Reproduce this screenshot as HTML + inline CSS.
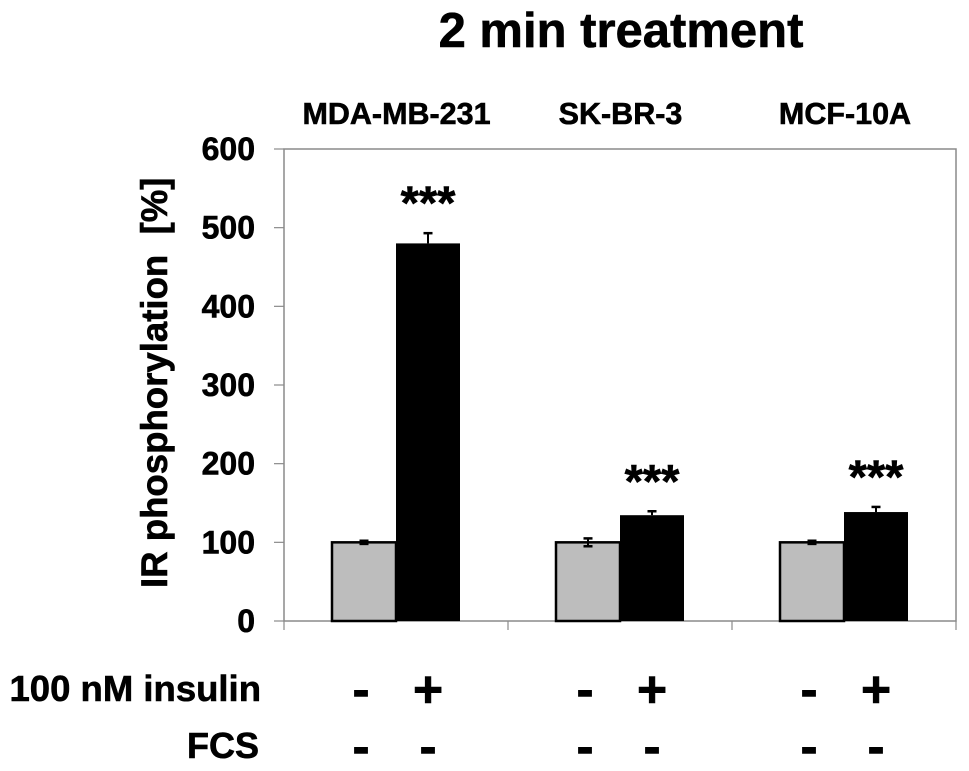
<!DOCTYPE html>
<html>
<head>
<meta charset="utf-8">
<title>2 min treatment</title>
<style>
html,body{margin:0;padding:0;background:#fff;}
svg{display:block;}
text{font-family:"Liberation Sans",sans-serif;font-weight:bold;fill:#000;stroke:#000;stroke-width:0.6px;}
</style>
</head>
<body>
<svg id="chart" width="969" height="771" viewBox="0 0 969 771" xmlns="http://www.w3.org/2000/svg">
<text x="621" y="47" font-size="49" text-anchor="middle">2 min treatment</text>
<text transform="translate(167 588) rotate(-90)" font-size="36.6" xml:space="preserve" style="white-space:pre">IR phosphorylation  [%]</text>
<text x="261" y="701" font-size="36.5" text-anchor="end">100 nM insulin</text>
<text x="259" y="758" font-size="36" text-anchor="end">FCS</text>
</svg>
<script>
const categories = ['MDA-MB-231', 'SK-BR-3', 'MCF-10A'];
const controlValues = [100, 100, 100];
const controlErrors = [2, 5, 2];
const insulinValues = [480, 134.5, 138.5];
const insulinErrors = [13, 5, 6.5];
const significance = ['***', '***', '***'];
const yTicks = [0, 100, 200, 300, 400, 500, 600];
const insulinSigns = [['-', '+'], ['-', '+'], ['-', '+']];
const fcsSigns = [['-', '-'], ['-', '-'], ['-', '-']];

const svg = document.getElementById('chart');
const NS = 'http://www.w3.org/2000/svg';
const plotLeft = 284, plotRight = 956, plotTop = 149, plotBottom = 621;
const yMax = yTicks[yTicks.length - 1];
const barWidth = 64;
const axisColor = '#8a8a8a';
function y(v) { return plotBottom - (v / yMax) * (plotBottom - plotTop); }
function bandLeft(i) { return plotLeft + i * (plotRight - plotLeft) / categories.length; }
function bandCenter(i) { return bandLeft(i) + (plotRight - plotLeft) / categories.length / 2; }

function line(x1, y1, x2, y2, color, width) {
  const el = document.createElementNS(NS, 'line');
  el.setAttribute('x1', x1);
  el.setAttribute('y1', y1);
  el.setAttribute('x2', x2);
  el.setAttribute('y2', y2);
  el.setAttribute('stroke', color);
  el.setAttribute('stroke-width', width);
  svg.appendChild(el);
  return el;
}
function label(str, x, yy, size, anchor) {
  const el = document.createElementNS(NS, 'text');
  el.setAttribute('x', x);
  el.setAttribute('y', yy);
  el.setAttribute('font-size', size);
  el.setAttribute('text-anchor', anchor);
  el.textContent = str;
  svg.appendChild(el);
  return el;
}
function errorBar(cx, value, err, both) {
  const g = [];
  g.push(line(cx, y(value + err), cx, both ? y(value - err) : y(value), '#000', 2));
  g.push(line(cx - 4.5, y(value + err), cx + 4.5, y(value + err), '#000', 2.5));
  if (both) g.push(line(cx - 4.5, y(value - err), cx + 4.5, y(value - err), '#000', 2.5));
  return g;
}

const frame = document.createElementNS(NS, 'rect');
frame.setAttribute('x', plotLeft);
frame.setAttribute('y', plotTop);
frame.setAttribute('width', plotRight - plotLeft);
frame.setAttribute('height', plotBottom - plotTop);
frame.setAttribute('fill', 'none');
frame.setAttribute('stroke', axisColor);
frame.setAttribute('stroke-width', 1.5);


svg.appendChild(frame);

yTicks.forEach(function (t) {
  const tick = line(plotLeft - 10, y(t), plotLeft, y(t), axisColor, 1.2);
  
  
  const tl = label(String(t), 255, y(t) + 11, 32, 'end');
  
  
});

for (let i = 0; i <= categories.length; i++) {
  const xt = bandLeft(i);
  const tick = line(xt, plotBottom, xt, plotBottom + 9, axisColor, 1.2);
  
  
}

categories.forEach(function (name, i) {
  const cx = bandCenter(i);

  const head = label(name, cx + (i === 0 ? 0.5 : i === 1 ? 0.5 : 1), 124, 30.5, 'middle');
  
  

  const ctrl = document.createElementNS(NS, 'rect');
  ctrl.setAttribute('x', cx - barWidth);
  ctrl.setAttribute('y', y(controlValues[i]));
  ctrl.setAttribute('width', barWidth);
  ctrl.setAttribute('height', y(0) - y(controlValues[i]));
  ctrl.setAttribute('fill', '#bdbdbd');
  ctrl.setAttribute('stroke', '#000');
  ctrl.setAttribute('stroke-width', 2.5);
  
  
  svg.appendChild(ctrl);

  const ins = document.createElementNS(NS, 'rect');
  ins.setAttribute('x', cx);
  ins.setAttribute('y', y(insulinValues[i]));
  ins.setAttribute('width', barWidth);
  ins.setAttribute('height', y(0) - y(insulinValues[i]));
  ins.setAttribute('fill', '#000');
  
  
  svg.appendChild(ins);

  errorBar(cx - barWidth / 2, controlValues[i], controlErrors[i], true).forEach(function (el) {
    
    
  });
  errorBar(cx + barWidth / 2, insulinValues[i], insulinErrors[i], false).forEach(function (el) {
    
    
  });

  const star = label(significance[i], cx + barWidth / 2, y(insulinValues[i] + insulinErrors[i]) - 14, 47, 'middle');
  
  

  const s1 = label(insulinSigns[i][0], cx - barWidth / 2 - 3, 707, 52, 'middle');
  
  
  const s2 = label(insulinSigns[i][1], cx + barWidth / 2, 707, 52, 'middle');
  
  
  const s3 = label(fcsSigns[i][0], cx - barWidth / 2 - 3, 764, 52, 'middle');
  
  
  const s4 = label(fcsSigns[i][1], cx + barWidth / 2, 764, 52, 'middle');
  
  
});
</script>
</body>
</html>
